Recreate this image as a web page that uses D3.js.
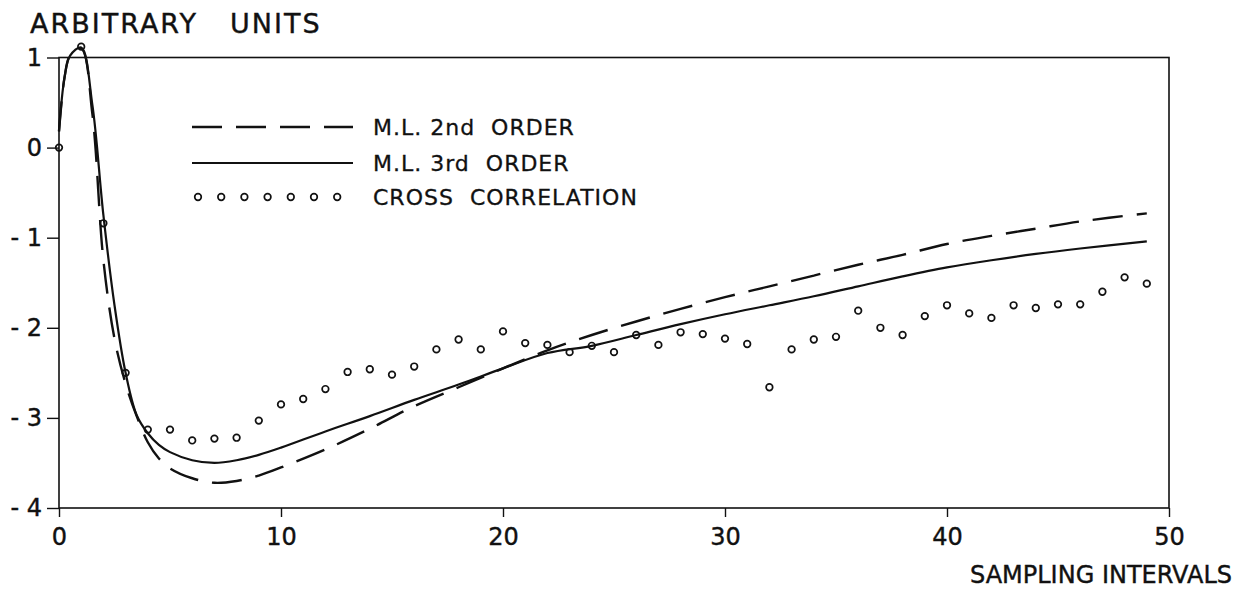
<!DOCTYPE html>
<html>
<head>
<meta charset="utf-8">
<script src="https://d3js.org/d3.v7.min.js"></script>
<style>
  body { margin: 0; background: #fff; }
  svg { display: block; font-family: "DejaVu Sans", sans-serif; }
  text { fill: #111; white-space: pre; }
</style>
</head>
<body>
<svg id="chart" width="1240" height="593"></svg>
<script>
// data
const lagX = d3.range(0, 50);
const crossCorr = [0.00, 1.12, -0.84, -2.50, -3.13, -3.13, -3.25, -3.23, -3.22, -3.03,
  -2.85, -2.79, -2.68, -2.49, -2.46, -2.52, -2.43, -2.24, -2.13, -2.24,
  -2.04, -2.17, -2.19, -2.27, -2.20, -2.27, -2.08, -2.19, -2.05, -2.07,
  -2.12, -2.18, -2.66, -2.24, -2.13, -2.10, -1.81, -2.00, -2.08, -1.87,
  -1.75, -1.84, -1.89, -1.75, -1.78, -1.74, -1.74, -1.60, -1.44, -1.51];

const curveX = [0, 0.25, 0.5, 1, 1.5, 2, 2.5, 3, 3.5, 4, 4.5, 5, 6, 7, 8, 9, 10, 12, 14, 16,
  18, 20, 22, 24, 26, 28, 30, 32, 34, 36, 38, 40, 42, 44, 46, 49];
const ml2nd = [0.18, 0.78, 1.02, 1.10, 0.38, -1.25, -2.12, -2.62, -2.98, -3.27, -3.45, -3.56, -3.67, -3.72, -3.70, -3.64,
  -3.55, -3.35, -3.12, -2.87, -2.66, -2.45, -2.25, -2.08, -1.93, -1.79, -1.66, -1.54, -1.42, -1.30,
  -1.19, -1.07, -0.98, -0.90, -0.82, -0.73];
const ml3rd = [0.18, 0.78, 1.02, 1.11, 0.48, -0.75, -1.75, -2.50, -2.97, -3.17, -3.30, -3.38, -3.47, -3.50, -3.47, -3.41,
  -3.33, -3.15, -2.98, -2.80, -2.63, -2.45, -2.28, -2.20, -2.08, -1.96, -1.85, -1.75, -1.65, -1.54,
  -1.43, -1.33, -1.25, -1.18, -1.12, -1.04];

const xTicks = [0, 10, 20, 30, 40, 50];
const yTicks = [-4, -3, -2, -1, 0, 1];
const legendLabels = ['M.L. 2nd  ORDER', 'M.L. 3rd  ORDER', 'CROSS  CORRELATION'];

const svg = d3.select('#chart');
const plotLeft = 59, plotRight = 1169, plotTop = 57.5, plotBottom = 508;

const x = d3.scaleLinear().domain([0, 50]).range([plotLeft, plotRight]);
const y = d3.scaleLinear().domain([-4, 1]).range([plotBottom, plotTop]);

// frame
svg.append('rect')
  .attr('x', plotLeft).attr('y', plotTop)
  .attr('width', plotRight - plotLeft).attr('height', plotBottom - plotTop)
  .attr('fill', 'none').attr('stroke', '#111').attr('stroke-width', 1.6);

// axes
const yAxis = d3.axisLeft(y)
  .tickValues(yTicks)
  .tickSize(12)
  .tickPadding(5)
  .tickFormat(d => d < 0 ? '- ' + Math.abs(d) : d);

const xAxis = d3.axisBottom(x)
  .tickValues(xTicks)
  .tickSize(9)
  .tickPadding(11)
  .tickFormat(d => d);

const gy = svg.append('g').attr('transform', `translate(${plotLeft},0)`).call(yAxis);
const gx = svg.append('g').attr('transform', `translate(0,${plotBottom})`).call(xAxis);

[gy, gx].forEach(g => {
  g.select('.domain').remove();
  g.selectAll('.tick line').attr('stroke', '#111').attr('stroke-width', 1.4);
  g.selectAll('.tick text')
    .attr('fill', '#111')
    .attr('stroke', '#111')
    .attr('stroke-width', 0.4)
    .style('font-family', '"DejaVu Sans", sans-serif')
    .style('font-size', '24px');
});

// axis titles
svg.append('text')
  .attr('x', 30).attr('y', 33)
  .attr('stroke', '#111').attr('stroke-width', 0.4)
  .style('font-size', '27px')
  .style('letter-spacing', '2px')
  .text('ARBITRARY')
  .append('tspan')
  .attr('x', 230)
  .text('UNITS');

svg.append('text')
  .attr('x', 1232).attr('y', 583)
  .attr('text-anchor', 'end')
  .attr('stroke', '#111').attr('stroke-width', 0.4)
  .style('font-size', '24px')
  .text('SAMPLING INTERVALS');

// curves
const line = d3.line()
  .x(d => x(d[0]))
  .y(d => y(d[1]))
  .curve(d3.curveCatmullRom.alpha(0.5));

svg.append('path')
  .datum(curveX.map((v, i) => [v, ml2nd[i]]))
  .attr('d', line)
  .attr('fill', 'none')
  .attr('stroke', '#111')
  .attr('stroke-width', 2.4)
  .attr('stroke-dasharray', '30 14');

svg.append('path')
  .datum(curveX.map((v, i) => [v, ml3rd[i]]))
  .attr('d', line)
  .attr('fill', 'none')
  .attr('stroke', '#111')
  .attr('stroke-width', 2.2);

// cross correlation points
svg.append('g')
  .selectAll('circle')
  .data(lagX.map((v, i) => [v, crossCorr[i]]))
  .join('circle')
  .attr('cx', d => x(d[0]))
  .attr('cy', d => y(d[1]))
  .attr('r', 3.3)
  .attr('fill', 'none')
  .attr('stroke', '#111')
  .attr('stroke-width', 1.7);

// legend
const lg = svg.append('g');
const lgX0 = 192, lgX1 = 353, lgText = 373;
const lgY = [127, 163, 197];

lg.append('line')
  .attr('x1', lgX0).attr('x2', lgX1).attr('y1', lgY[0]).attr('y2', lgY[0])
  .attr('stroke', '#111').attr('stroke-width', 2.4).attr('stroke-dasharray', '30 14');

lg.append('line')
  .attr('x1', lgX0).attr('x2', lgX1).attr('y1', lgY[1]).attr('y2', lgY[1])
  .attr('stroke', '#111').attr('stroke-width', 2.2);

lg.selectAll('circle')
  .data(d3.range(7))
  .join('circle')
  .attr('cx', i => 198 + i * 23.2)
  .attr('cy', lgY[2])
  .attr('r', 3.3)
  .attr('fill', 'none')
  .attr('stroke', '#111')
  .attr('stroke-width', 1.7);

lg.selectAll('text')
  .data(legendLabels)
  .join('text')
  .attr('x', lgText)
  .attr('y', (d, i) => lgY[i] + 8)
  .attr('stroke', '#111')
  .attr('stroke-width', 0.3)
  .style('font-size', '22px')
  .style('letter-spacing', '1px')
  .text(d => d);
</script>
</body>
</html>
